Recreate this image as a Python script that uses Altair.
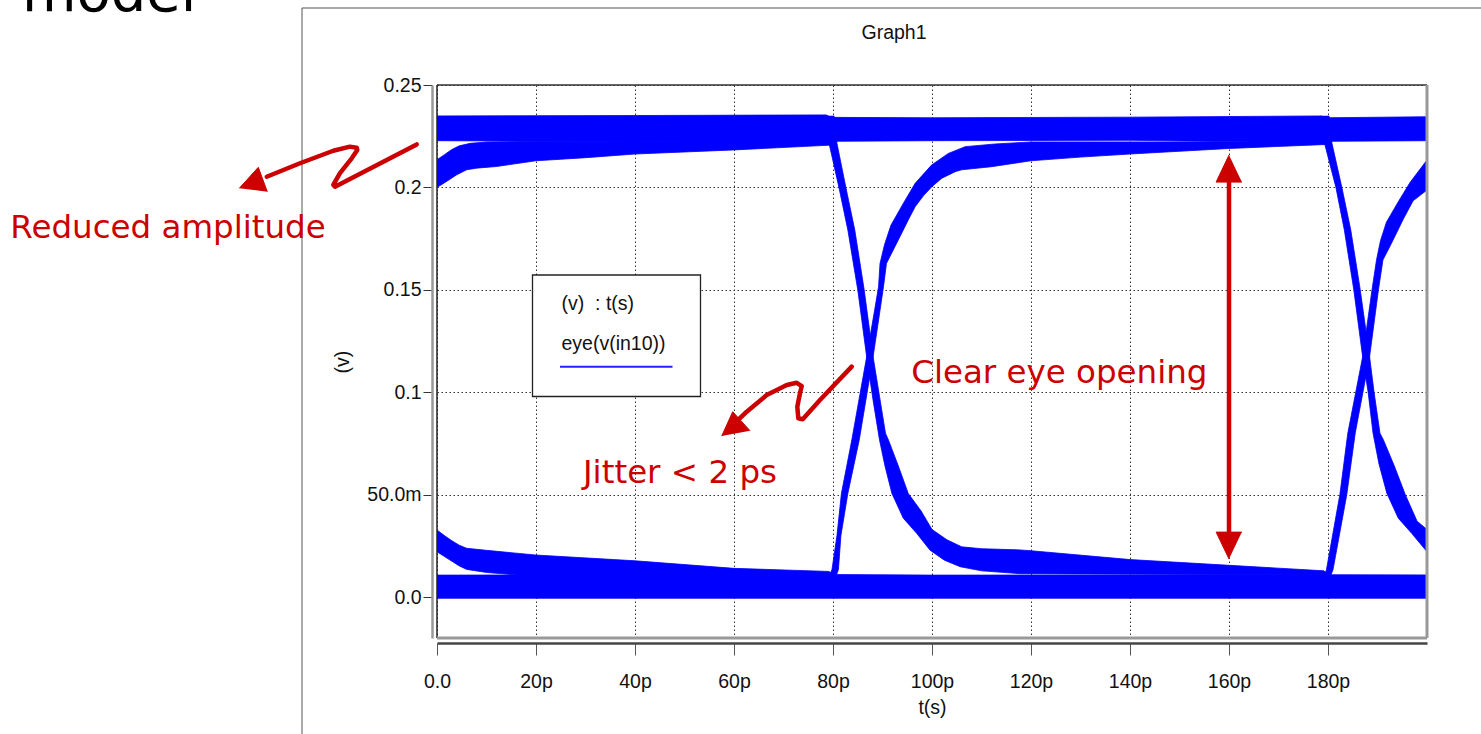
import altair as alt
import pandas as pd

# ---------------- axes ----------------
X_TICKS = [0, 20, 40, 60, 80, 100, 120, 140, 160, 180]      # t in ps
Y_TICKS = [0.0, 0.05, 0.10, 0.15, 0.20, 0.25]               # volts
X_DOMAIN = [0, 200]
Y_DOMAIN = [-0.02, 0.25]
LEGEND_LINES = ["(v)\u00a0 : t(s)", "eye(v(in10))"]

# ---------------- eye diagram bands (outline of each band, t in ps, v in V) ----------------
TOP_BAND_T = [0, 40, 78.6, 79.6, 100, 140, 178.6, 179.6, 200,
              200, 180.6, 179.4, 140, 100, 80.6, 79.4, 40, 0]
TOP_BAND_V = [0.2349, 0.2351, 0.2354, 0.2342, 0.2340, 0.2343, 0.2349, 0.2340, 0.2345,
              0.2228, 0.2225, 0.2217, 0.2230, 0.2228, 0.2225, 0.2216, 0.2224, 0.2228]

RISE_TAIL_T = [0, 1.5, 3, 4.5, 6.7, 10, 20, 80,
               80, 60, 40, 30, 20, 12, 8, 6, 4, 2, 0]
RISE_TAIL_V = [0.2135, 0.2160, 0.2185, 0.2203, 0.2215, 0.2222, 0.2225, 0.2222,
               0.2207, 0.2183, 0.2163, 0.2145, 0.2130, 0.2102, 0.2094, 0.2086, 0.2062, 0.2030, 0.2000]

RISE_1_T = [79.3, 79.8, 80.8, 81.7, 83.8, 86.8, 88.4, 89.2, 89.5, 90.4, 91.7, 94.2, 96.6, 99.9,
            103.3, 106.7, 112.7, 120, 180,
            180, 160, 140, 130, 120, 112, 106, 104.7, 102, 100, 98.3, 96.6, 95.2, 94.2, 92.5,
            90.8, 90.2, 89.5, 88.1, 85.3, 83.0, 81.6, 81.1, 80.7]
RISE_1_V = [0.0108, 0.0135, 0.0300, 0.0506, 0.0767, 0.1173, 0.1400, 0.1515, 0.1629, 0.1720,
            0.1815, 0.1922, 0.2020, 0.2109, 0.2166, 0.2199, 0.2212, 0.2222, 0.2222,
            0.2210, 0.2190, 0.2163, 0.2148, 0.2130, 0.2101, 0.2086, 0.2077, 0.2045, 0.2004,
            0.1960, 0.1906, 0.1841, 0.1792, 0.1710, 0.1629, 0.1515, 0.1400, 0.1173, 0.0767,
            0.0506, 0.0300, 0.0135, 0.0108]

RISE_2_T = [179.3, 179.7, 182.4, 184.0, 187.0, 188.9, 189.8, 190.6, 191.8, 194.2, 196.6, 200,
            200, 197.2, 195.2, 194.2, 192.5, 191.1, 190.2, 188.4, 185.5, 183.8, 181.0, 180.6]
RISE_2_V = [0.0108, 0.0135, 0.0501, 0.0800, 0.1173, 0.1502, 0.1646, 0.1740, 0.1830, 0.1930,
            0.2025, 0.2134,
            0.1987, 0.1935, 0.1845, 0.1795, 0.1712, 0.1646, 0.1502, 0.1173, 0.0800, 0.0501,
            0.0132, 0.0108]

FALL_1_T = [78.6, 79.2, 81.2, 83.0, 85.0, 86.8, 88.1, 89.4, 90.5, 91.9, 94.2, 96.9, 99.6,
            102.5, 105.7, 110, 117.8, 180,
            179.2, 160, 140, 120, 117.8, 110, 106, 103, 100, 97.8, 95.2, 93.2, 91.2, 90.6,
            88.1, 86.3, 84.4, 82.6, 80.8, 80.2]
FALL_1_V = [0.2350, 0.2215, 0.2000, 0.1792, 0.1500, 0.1173, 0.0960, 0.0767, 0.0640, 0.0506,
            0.0385, 0.0311, 0.0229, 0.0180, 0.0148, 0.0128, 0.0114, 0.0108,
            0.0128, 0.0155, 0.0183, 0.0226, 0.0230, 0.0236, 0.0245, 0.0280, 0.0330, 0.0420,
            0.0506, 0.0640, 0.0767, 0.0800, 0.1173, 0.1500, 0.1792, 0.2000, 0.2215, 0.2350]

FALL_2_T = [178.6, 179.3, 181.6, 183.3, 185.2, 187.0, 188.1, 189.1, 190.3, 191.9, 194.2, 196.9, 200,
            200, 198, 195.6, 193.4, 191.2, 190.5, 189.3, 188.4, 186.5, 184.6, 182.8, 180.8, 180.2]
FALL_2_V = [0.2350, 0.2215, 0.2000, 0.1792, 0.1502, 0.1173, 0.1001, 0.0800, 0.0650, 0.0506,
            0.0385, 0.0311, 0.0221,
            0.0330, 0.0370, 0.0501, 0.0640, 0.0767, 0.0800, 0.1001, 0.1173, 0.1502, 0.1792,
            0.2000, 0.2215, 0.2350]

FALL_TAIL_T = [0, 1.5, 3, 4.5, 6, 10, 20, 40, 60, 79.2, 80,
               80, 20, 14, 10, 6, 4.5, 3, 1.5, 0]
FALL_TAIL_V = [0.0327, 0.0300, 0.0275, 0.0253, 0.0238, 0.0228, 0.0205, 0.0177, 0.0140, 0.0125, 0.0110,
               0.0100, 0.0100, 0.0112, 0.0120, 0.0135, 0.0152, 0.0175, 0.0198, 0.0221]

BOTTOM_BAND_T = [0, 40, 80, 100, 140, 180, 200, 200, 0]
BOTTOM_BAND_V = [0.0107, 0.0109, 0.0110, 0.0107, 0.0108, 0.0109, 0.0108, -0.0006, -0.0006]

# ---------------- red annotations (data coordinates) ----------------
ARROW_AMP_T = [-4.10, -20.61, -20.95, -19.60, -17.23, -16.10, -16.22, -17.58, -20.95, -27.68, -34.40]
ARROW_AMP_V = [0.2210, 0.2003, 0.2012, 0.2070, 0.2142, 0.2183, 0.2194, 0.2199, 0.2179, 0.2118, 0.2052]
HEAD_AMP_T = [-39.94, -36.10, -34.28]
HEAD_AMP_V = [0.1996, 0.2098, 0.1979]

ARROW_JIT_T = [83.78, 77.37, 73.88, 72.99, 72.79, 73.33, 73.68, 72.67, 70.65, 66.61, 62.57, 61.21]
ARROW_JIT_V = [0.1125, 0.0962, 0.0868, 0.0873, 0.0929, 0.0995, 0.1030, 0.1046, 0.1035, 0.0986, 0.0905, 0.0873]
HEAD_JIT_T = [57.52, 59.74, 63.23]
HEAD_JIT_V = [0.0786, 0.0905, 0.0812]

OPEN_SHAFT_T = [160, 160]
OPEN_SHAFT_V = [0.2026, 0.0317]
HEAD_UP_T = [160, 157.4, 162.6]
HEAD_UP_V = [0.2158, 0.2026, 0.2026]
HEAD_DN_T = [160, 157.4, 162.6]
HEAD_DN_V = [0.0186, 0.0317, 0.0317]

NOTE_LABELS = ["Reduced amplitude", "Jitter < 2 ps", "Clear eye opening"]
NOTE_T = [-86.2, 29.5, 95.8]
NOTE_V = [0.1755, 0.0555, 0.1045]


def outline(items):
    rows = []
    for name, ts, vs in items:
        for i, (t, v) in enumerate(zip(ts, vs)):
            rows.append({"poly": name, "i": i, "t": t, "v": v})
    return pd.DataFrame(rows)


eye_df = outline([
    ("top", TOP_BAND_T, TOP_BAND_V),
    ("rise_tail", RISE_TAIL_T, RISE_TAIL_V),
    ("rise1", RISE_1_T, RISE_1_V),
    ("rise2", RISE_2_T, RISE_2_V),
    ("fall1", FALL_1_T, FALL_1_V),
    ("fall2", FALL_2_T, FALL_2_V),
    ("fall_tail", FALL_TAIL_T, FALL_TAIL_V),
    ("bottom", BOTTOM_BAND_T, BOTTOM_BAND_V),
])
shaft_df = outline([
    ("amp", ARROW_AMP_T, ARROW_AMP_V),
    ("jit", ARROW_JIT_T, ARROW_JIT_V),
    ("open", OPEN_SHAFT_T, OPEN_SHAFT_V),
])
head_df = outline([
    ("amp", HEAD_AMP_T, HEAD_AMP_V),
    ("jit", HEAD_JIT_T, HEAD_JIT_V),
    ("up", HEAD_UP_T, HEAD_UP_V),
    ("dn", HEAD_DN_T, HEAD_DN_V),
])
note_df = pd.DataFrame({"label": NOTE_LABELS, "t": NOTE_T, "v": NOTE_V})
one = pd.DataFrame({"k": [0]})

FONT = "Liberation Sans"
FS = 19.5
PW, PH = 990, 553

xs = alt.Scale(domain=X_DOMAIN, nice=False, zero=False)
ys = alt.Scale(domain=Y_DOMAIN, nice=False, zero=False)

grid_style = dict(grid=True, gridDash=[1.5, 2.5], gridColor="#333333", gridWidth=1, gridOpacity=1)

x_axis = alt.Axis(
    values=X_TICKS,
    labelExpr="datum.value == 0 ? '0.0' : datum.value + 'p'",
    title="t(s)", offset=5, tickSize=12, tickColor="#555555", tickWidth=1,
    domainColor="#444444", domainWidth=2.5,
    labelPadding=17, labelFlush=False, labelOverlap=False,
    labelFont=FONT, labelFontSize=FS, labelColor="#111111",
    titleFont=FONT, titleFontSize=FS, titleFontWeight="normal", titleColor="#111111",
    titlePadding=8, **grid_style,
)
y_axis = alt.Axis(
    values=Y_TICKS,
    labelExpr="datum.value == 0 ? '0.0' : (abs(datum.value - 0.05) < 1e-9 ? '50.0m' : format(datum.value, '.2~f'))",
    title="(v)", offset=5, tickSize=9, tickColor="#333333", tickWidth=1,
    domainColor="#999999", domainWidth=2.5,
    labelPadding=2, labelFlush=False, labelOverlap=False,
    labelFont=FONT, labelFontSize=FS, labelColor="#111111",
    titleFont=FONT, titleFontSize=FS, titleFontWeight="normal", titleColor="#111111",
    titlePadding=14, **grid_style,
)


def X():
    return alt.X("t:Q", scale=xs, axis=x_axis)


def Y():
    return alt.Y("v:Q", scale=ys, axis=y_axis)


# outer graph frame and slide title fragment
frame_top = alt.Chart(one).mark_rule(color="#555555", strokeWidth=1).encode(
    x=alt.value(-135), x2=alt.value(1044), y=alt.value(-77))
frame_left = alt.Chart(one).mark_rule(color="#555555", strokeWidth=1).encode(
    x=alt.value(-135), y=alt.value(-77), y2=alt.value(649))
slide_title = alt.Chart(one).mark_text(
    text="model", align="left", baseline="alphabetic", font="DejaVu Sans", fontSize=56, color="#000000"
).encode(x=alt.value(-415), y=alt.value(-74))

eye = alt.Chart(eye_df).mark_line(
    fill="#0000FF", stroke="#0000FF", strokeWidth=0.8, strokeJoin="round"
).encode(x=X(), y=Y(), detail="poly:N", order=alt.Order("i:Q"))

border_top = alt.Chart(one).mark_rule(color="#333333", strokeWidth=1.5).encode(
    x=alt.value(0), x2=alt.value(PW), y=alt.value(0))
border_left = alt.Chart(one).mark_rule(color="#222222", strokeWidth=1.5).encode(
    x=alt.value(0), y=alt.value(0), y2=alt.value(PH))
border_right = alt.Chart(one).mark_rule(color="#999999", strokeWidth=3).encode(
    x=alt.value(PW), y=alt.value(0), y2=alt.value(PH))
border_bottom = alt.Chart(one).mark_rule(color="#999999", strokeWidth=3).encode(
    x=alt.value(0), x2=alt.value(PW), y=alt.value(PH))

legend_box = alt.Chart(one).mark_rect(fill="#FFFFFF", stroke="#222222", strokeWidth=1.3).encode(
    x=alt.value(95.5), x2=alt.value(263.5), y=alt.value(190), y2=alt.value(311.5))
legend_t1 = alt.Chart(one).mark_text(
    text=LEGEND_LINES[0], align="left", baseline="alphabetic", font=FONT, fontSize=FS, color="#111111"
).encode(x=alt.value(124.5), y=alt.value(224.5))
legend_t2 = alt.Chart(one).mark_text(
    text=LEGEND_LINES[1], align="left", baseline="alphabetic", font=FONT, fontSize=FS, color="#111111"
).encode(x=alt.value(124.5), y=alt.value(264.5))
legend_line = alt.Chart(one).mark_rule(color="#2222FF", strokeWidth=2).encode(
    x=alt.value(123), x2=alt.value(235.5), y=alt.value(281.7))

shafts = alt.Chart(shaft_df).mark_line(
    stroke="#CC0000", strokeWidth=4.5, strokeCap="round", strokeJoin="round"
).encode(x=X(), y=Y(), detail="poly:N", order=alt.Order("i:Q"))
heads = alt.Chart(head_df).mark_line(
    fill="#CC0000", stroke="#CC0000", strokeWidth=1, strokeJoin="miter"
).encode(x=X(), y=Y(), detail="poly:N", order=alt.Order("i:Q"))
notes = alt.Chart(note_df).mark_text(
    align="left", baseline="alphabetic", font="DejaVu Sans", fontSize=32.5, color="#CC0000"
).encode(x=X(), y=Y(), text="label:N")

graph_title = alt.Chart(one).mark_text(
    text="Graph1", align="center", baseline="alphabetic", font=FONT, fontSize=FS, color="#111111"
).encode(x=alt.value(457), y=alt.value(-46))

chart = alt.layer(
    frame_top, frame_left, slide_title,
    eye,
    border_top, border_left, border_right, border_bottom,
    legend_box, legend_t1, legend_t2, legend_line,
    shafts, heads, notes,
    graph_title,
).properties(
    width=PW, height=PH,
    autosize=alt.AutoSizeParams(type="none"),
    padding={"left": 437, "top": 85, "right": 54, "bottom": 96},
    background="#FFFFFF",
).configure_view(stroke="transparent")

chart.save("out.html", embed_options={"renderer": "svg", "actions": False})
